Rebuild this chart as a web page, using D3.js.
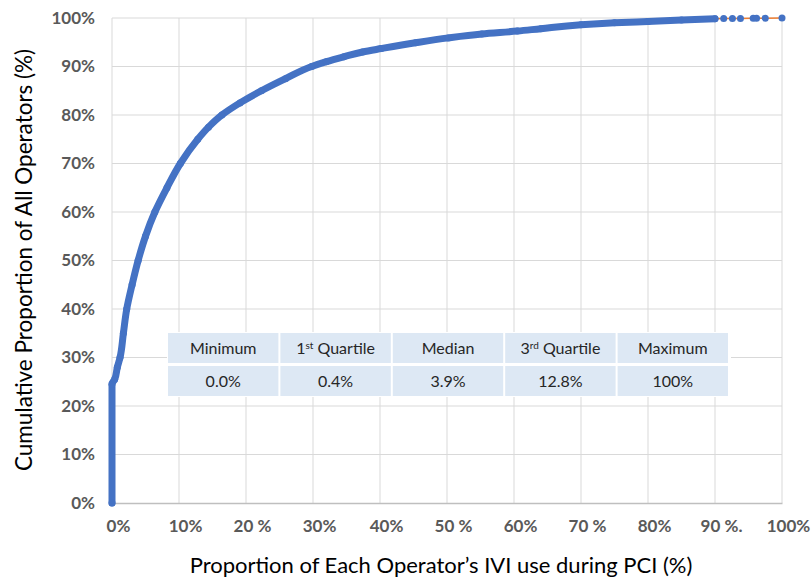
<!DOCTYPE html>
<html>
<head>
<meta charset="utf-8">
<script src="https://cdn.jsdelivr.net/npm/d3@7"></script>
<style>
  body { margin: 0; background: #fff; }
  svg { font-family: Lato, "Open Sans", sans-serif; }
</style>
</head>
<body>
<script>
// cumulative curve (x = % IVI use, y = cumulative % of operators)
const cdfX = [0, 0, 0.4, 0.8, 1.2, 1.7, 2.2, 3.0, 3.9, 5.0, 6.4, 8.2, 10.2, 12.8, 14.4, 16.4, 19.1, 22.3, 25.9, 29.8, 32.0, 34.6, 37.4, 40.2, 45.3, 50.2, 55.2, 60.5, 64, 70, 75, 80, 85, 90]
const cdfY = [0, 24.5, 25.5, 28, 30, 35, 40, 45, 50, 55, 60, 65, 70, 75, 77.5, 80, 82.5, 85, 87.5, 90, 91, 92, 93, 93.7, 94.9, 95.9, 96.7, 97.3, 97.8, 98.6, 99.0, 99.3, 99.6, 99.85]
// the few separate operators at the top end
const tailX = [91.3, 92.6, 93.8, 95.7, 96.2, 97.5, 100]
const tailY = [99.9, 99.9, 99.92, 99.95, 99.95, 99.97, 100]

const xTicks = [0, 10, 20, 30, 40, 50, 60, 70, 80, 90, 100]
const xTickLabels = ["0%", "10%", "20 %", "30%", "40%", "50 %", "60%", "70 %", "80%", "90 %.", "100%"]
const yTicks = [0, 10, 20, 30, 40, 50, 60, 70, 80, 90, 100]

const statNames = ["Minimum", "1st Quartile", "Median", "3rd Quartile", "Maximum"]
const statValues = ["0.0%", "0.4%", "3.9%", "12.8%", "100%"]

const width = 812, height = 579
const plot = { left: 112, right: 782, top: 18, bottom: 503 }

const svg = d3.select("body").append("svg")
    .attr("width", width)
    .attr("height", height)

const x = d3.scaleLinear().domain([0, 100]).range([plot.left, plot.right])
const y = d3.scaleLinear().domain([0, 100]).range([plot.bottom, plot.top])

// gridlines
svg.append("g")
    .selectAll("line")
    .data(yTicks.slice(1))
    .join("line")
    .attr("x1", plot.left).attr("x2", plot.right)
    .attr("y1", d => y(d)).attr("y2", d => y(d))
    .attr("stroke", "#d9d9d9").attr("stroke-width", 1)

svg.append("g")
    .selectAll("line")
    .data(xTicks)
    .join("line")
    .attr("x1", d => x(d)).attr("x2", d => x(d))
    .attr("y1", plot.top).attr("y2", plot.bottom)
    .attr("stroke", "#d9d9d9").attr("stroke-width", 1)

// x axis line + labels
const xAxis = d3.axisBottom(x)
    .tickValues(xTicks)
    .tickSize(0)
    .tickPadding(17)
    .tickFormat((d, i) => xTickLabels[i])
const gx = svg.append("g")
    .attr("transform", `translate(0,${plot.bottom})`)
    .call(xAxis)
gx.select(".domain").attr("stroke", "#bfbfbf").attr("stroke-width", 1.3)
gx.selectAll("text")
    .attr("dx", 6)
    .attr("fill", "#595959")
    .style("font-size", "17px")
    .style("font-weight", "bold")
    .style("font-family", "Lato, sans-serif")

// y axis labels
const yAxis = d3.axisLeft(y)
    .tickValues(yTicks)
    .tickSize(0)
    .tickPadding(17)
    .tickFormat(d => d + "%")
const gy = svg.append("g")
    .attr("transform", `translate(${plot.left},0)`)
    .call(yAxis)
gy.select(".domain").remove()
gy.selectAll("text")
    .attr("fill", "#595959")
    .style("font-size", "17px")
    .style("font-weight", "bold")
    .style("font-family", "Lato, sans-serif")

// series: orange connecting line under blue markers
const allPts = cdfX.map((d, i) => [d, cdfY[i]]).concat(tailX.map((d, i) => [d, tailY[i]]))
const densePts = cdfX.map((d, i) => [d, cdfY[i]])

const line = d3.line().x(d => x(d[0])).y(d => y(d[1]))

svg.append("path")
    .datum(allPts)
    .attr("d", line)
    .attr("fill", "none")
    .attr("stroke", "#ed7d31")
    .attr("stroke-width", 1.5)

// so many operators near each other that the markers merge into a band
svg.append("path")
    .datum(densePts)
    .attr("d", d3.line().x(d => x(d[0])).y(d => y(d[1])).curve(d3.curveMonotoneY))
    .attr("fill", "none")
    .attr("stroke", "#4472c4")
    .attr("stroke-width", 7)
    .attr("stroke-linecap", "round")
    .attr("stroke-linejoin", "round")

svg.append("g")
    .selectAll("circle")
    .data(allPts)
    .join("circle")
    .attr("cx", d => x(d[0]))
    .attr("cy", d => y(d[1]))
    .attr("r", 3.5)
    .attr("fill", "#4472c4")

// summary table
const tbl = { left: 168, top: 333, colW: 112.4, rowH: 30, gap: 3 }
const tg = svg.append("g")
tg.append("rect")
    .attr("x", tbl.left - 1).attr("y", tbl.top - 1)
    .attr("width", tbl.colW * 5 + 2).attr("height", tbl.rowH * 2 + tbl.gap + 2)
    .attr("fill", "#fff")

const rows = [statNames, statValues]
rows.forEach((row, r) => {
    row.forEach((txt, c) => {
        const cx = tbl.left + c * tbl.colW
        const cy = tbl.top + r * (tbl.rowH + tbl.gap)
        tg.append("rect")
            .attr("x", cx).attr("y", cy)
            .attr("width", tbl.colW - 2).attr("height", tbl.rowH)
            .attr("fill", "#dde8f4")
        const t = tg.append("text")
            .attr("x", cx + (tbl.colW - 2) / 2)
            .attr("y", cy + tbl.rowH / 2 + 5.5)
            .attr("text-anchor", "middle")
            .attr("fill", "#262626")
            .style("font-size", "16px")
        const m = txt.match(/^(\d)(st|rd)( .*)$/)
        if (m) {
            t.append("tspan").text(m[1])
            t.append("tspan").text(m[2]).attr("dy", -5).style("font-size", "10px")
            t.append("tspan").text(m[3]).attr("dy", 5)
        } else {
            t.text(txt)
        }
    })
})

// axis titles
svg.append("text")
    .attr("x", 441)
    .attr("y", 573)
    .attr("text-anchor", "middle")
    .attr("fill", "#000")
    .style("font-size", "22px")
    .text("Proportion of Each Operator’s IVI use during PCI (%)")

svg.append("text")
    .attr("transform", "translate(32,260) rotate(-90)")
    .attr("text-anchor", "middle")
    .attr("fill", "#000")
    .style("font-size", "22.5px")
    .text("Cumulative Proportion of All Operators (%)")
</script>
</body>
</html>
